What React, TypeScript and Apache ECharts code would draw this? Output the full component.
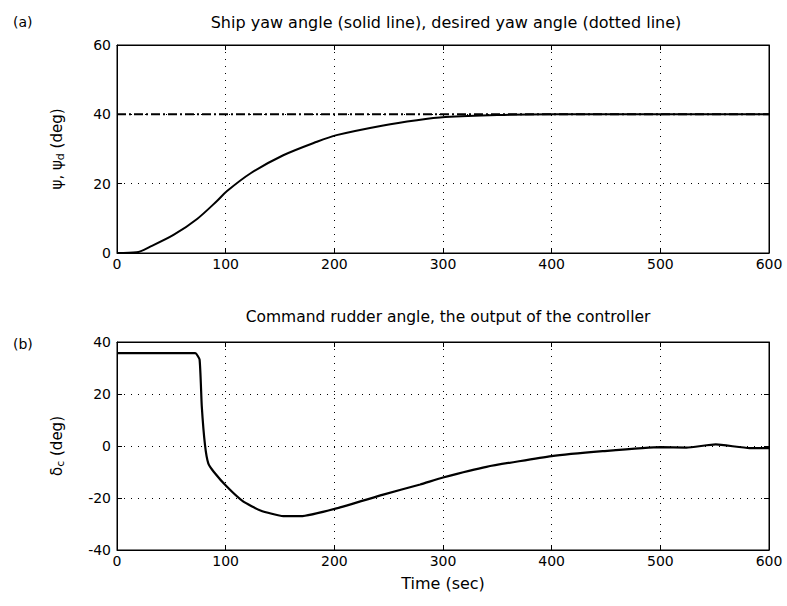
import React, { useEffect, useRef } from "react";
import * as echarts from "echarts";

const yawTime = [0, 18, 31, 52, 74, 92, 101, 123, 153, 184, 202, 245, 276, 302, 350, 400, 600];
const yawDeg = [0, 0.2, 1.9, 5.2, 9.9, 15, 17.8, 23, 28.2, 32.1, 34, 36.8, 38.3, 39.2, 39.8, 40, 40];
const desiredTime = [0, 600];
const desiredDeg = [40, 40];
const rudderTime = [0, 72, 76, 78, 81, 84, 89, 101, 116, 132, 153, 169, 202, 245, 279, 300, 340, 400, 447, 500, 524, 551, 582, 600];
const rudderDeg = [35.7, 35.7, 33.2, 15.4, 0.3, -6.7, -9.9, -15.6, -21.3, -24.8, -27, -27, -24, -18.7, -14.8, -12.1, -8, -3.9, -2, -0.4, -0.6, 0.6, -0.8, -0.8];
const xTicks = [0, 100, 200, 300, 400, 500, 600];
const topYTicks = [0, 20, 40, 60];
const bottomYTicks = [-40, -20, 0, 20, 40];

const FONT = "'DejaVu Sans', sans-serif";
const FS = 14;
const TFS = 16;

export default function App() {
  const ref = useRef<HTMLDivElement>(null);
  useEffect(() => {
    if (!ref.current) return;
    const chart = echarts.init(ref.current, undefined, { renderer: "svg" });
    const pairs = (t: number[], v: number[]) => t.map((x, i) => [x, v[i]]);
    const dotted = { show: true, lineStyle: { color: "#000", width: 1, type: [1, 6] as any } };
    const baseX = (grid: number, showLabel: boolean, pos: string, name?: string) => ({
      type: "value",
      gridIndex: grid,
      position: pos,
      min: xTicks[0],
      max: xTicks[xTicks.length - 1],
      interval: 100,
      axisLine: { show: true, onZero: false, lineStyle: { color: "#000", width: 1 } },
      axisTick: { show: true, inside: true, length: 5, lineStyle: { color: "#000" } },
      axisLabel: { show: showLabel, color: "#000", fontSize: FS, fontFamily: FONT, margin: 4 },
      splitLine: showLabel ? dotted : { show: false },
      name: name,
      nameLocation: "middle",
      nameGap: 25,
      nameTextStyle: { color: "#000", fontSize: TFS, fontFamily: FONT },
    });
    const baseY = (grid: number, ticks: number[], showLabel: boolean, pos: string, name?: any, rich?: any) => ({
      type: "value",
      gridIndex: grid,
      position: pos,
      min: ticks[0],
      max: ticks[ticks.length - 1],
      interval: 20,
      axisLine: { show: true, onZero: false, lineStyle: { color: "#000", width: 1 } },
      axisTick: { show: true, inside: true, length: 5, lineStyle: { color: "#000" } },
      axisLabel: { show: showLabel, color: "#000", fontSize: FS, fontFamily: FONT, margin: 6 },
      splitLine: showLabel ? dotted : { show: false },
      name: name,
      nameLocation: "middle",
      nameRotate: 90,
      nameGap: 52,
      nameTextStyle: { color: "#000", fontSize: 15, fontFamily: FONT, rich: rich },
    });
    const richSub = {
      m: { fontSize: 15, fontFamily: FONT, color: "#000", lineHeight: 17 },
      s: { fontSize: 11, fontFamily: FONT, color: "#000", padding: [8, 0, 0, 0], lineHeight: 17 },
    };
    const tstyle = { color: "#000", fontSize: TFS, fontWeight: "normal", fontFamily: FONT };
    chart.setOption({
      animation: false,
      backgroundColor: "#fff",
      title: [
        { text: "Ship yaw angle (solid line), desired yaw angle (dotted line)", left: 441, top: 9, textAlign: "center", textStyle: tstyle },
        { text: "Command rudder angle, the output of the controller", left: 443, top: 304, textAlign: "center", textStyle: { ...tstyle, fontSize: 15.5 } },
        { text: "(a)", left: 8, top: 10, textStyle: { ...tstyle, fontSize: FS } },
        { text: "(b)", left: 8, top: 332, textStyle: { ...tstyle, fontSize: FS } },
      ],
      grid: [
        { left: 117, top: 45, width: 652, height: 208, show: true, borderColor: "#000", borderWidth: 1, backgroundColor: "#fff" },
        { left: 117, top: 342, width: 652, height: 208, show: true, borderColor: "#000", borderWidth: 1, backgroundColor: "#fff" },
      ],
      xAxis: [
        baseX(0, true, "bottom"),
        baseX(0, false, "top"),
        baseX(1, true, "bottom", "Time (sec)"),
        baseX(1, false, "top"),
      ],
      yAxis: [
        baseY(0, topYTicks, true, "left", "{m|ψ, ψ}{s|d}{m| (deg)}", richSub),
        baseY(0, topYTicks, false, "right"),
        baseY(1, bottomYTicks, true, "left", "{m|δ}{s|c}{m| (deg)}", richSub),
        baseY(1, bottomYTicks, false, "right"),
      ],
      series: [
        {
          type: "line", xAxisIndex: 0, yAxisIndex: 0, data: pairs(desiredTime, desiredDeg),
          showSymbol: false, lineStyle: { color: "#000", width: 2, type: [9, 3, 2, 3] as any },
        },
        {
          type: "line", xAxisIndex: 0, yAxisIndex: 0, data: pairs(yawTime, yawDeg), smooth: 0.3,
          showSymbol: false, lineStyle: { color: "#000", width: 2 },
        },
        {
          type: "line", xAxisIndex: 2, yAxisIndex: 2, data: pairs(rudderTime, rudderDeg), smooth: 0.15,
          showSymbol: false, lineStyle: { color: "#000", width: 2.2 },
        },
      ],
    });
    return () => chart.dispose();
  }, []);
  return <div ref={ref} style={{ width: 787, height: 606, position: "absolute", left: 0, top: 0 }} />;
}
